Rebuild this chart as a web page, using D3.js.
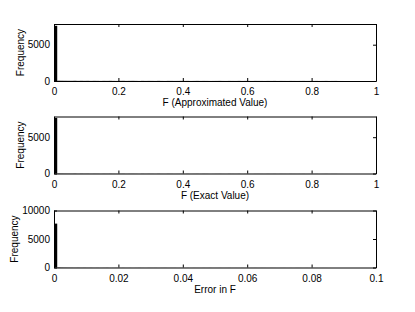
<!DOCTYPE html>
<html>
<head>
<meta charset="utf-8">
<script src="https://cdn.jsdelivr.net/npm/d3@7"></script>
<style>
  body { margin: 0; background: #fff; }
  svg { display: block; font-family: "Liberation Sans", Arial, sans-serif; }
  .axis text { font-size: 10px; fill: #000; }
  .axis path, .axis line { stroke: #000; }
  .label { font-size: 10px; fill: #000; }
</style>
</head>
<body>
<svg id="chart" width="415" height="312"></svg>
<script>
// histogram counts, 100 bins each (small bins estimated)
const countsApprox = [7600, 40, 32, 28, 25, 22, 30, 18, 26, 20,
  24, 15, 22, 18, 12, 20, 16, 22, 14, 10,
  18, 22, 12, 16, 20, 14, 8, 18, 12, 16,
  14, 10, 20, 12, 8, 16, 14, 10, 12, 18,
  10, 14, 8, 12, 16, 10, 14, 12, 8, 10,
  12, 16, 10, 8, 14, 12, 10, 16, 8, 12,
  10, 8, 14, 12, 10, 8, 12, 10, 14, 8,
  12, 10, 8, 12, 10, 8, 10, 12, 8, 10,
  8, 10, 6, 8, 12, 6, 8, 10, 4, 2,
  0, 0, 0, 0, 0, 0, 0, 0, 0, 0];
const countsExact = [7650, 38, 30, 26, 24, 22, 28, 18, 24, 20,
  22, 16, 20, 18, 14, 20, 16, 20, 14, 12,
  16, 20, 12, 16, 18, 14, 10, 16, 12, 16,
  14, 10, 18, 12, 10, 16, 14, 10, 12, 16,
  10, 14, 10, 12, 14, 10, 14, 12, 8, 10,
  12, 14, 10, 8, 14, 12, 10, 14, 8, 12,
  10, 8, 12, 12, 10, 8, 12, 10, 12, 8,
  12, 10, 8, 12, 10, 8, 10, 12, 8, 10,
  8, 10, 6, 8, 10, 6, 8, 8, 4, 2,
  0, 0, 0, 0, 0, 0, 0, 0, 0, 0];
const countsError = [7700, 60, 40, 34, 30, 26, 22, 28, 20, 24,
  18, 22, 16, 20, 14, 18, 22, 12, 16, 20,
  14, 18, 12, 16, 10, 14, 18, 12, 10, 16,
  12, 14, 10, 12, 16, 10, 12, 14, 8, 12,
  10, 14, 8, 12, 10, 8, 12, 10, 14, 8,
  10, 12, 8, 10, 12, 8, 10, 8, 12, 10,
  8, 10, 12, 8, 10, 8, 6, 10, 8, 6,
  8, 10, 6, 8, 6, 10, 8, 6, 8, 6,
  8, 6, 4, 6, 4, 2, 0, 0, 0, 0,
  0, 0, 0, 0, 0, 0, 0, 0, 0, 0];

const xTicksF = [0, 0.2, 0.4, 0.6, 0.8, 1];
const xTicksErr = [0, 0.02, 0.04, 0.06, 0.08, 0.1];

const panels = [
  { counts: countsApprox, xMax: 1, yMax: 7850, xTicks: xTicksF, yTicks: [0, 5000],
    xlabel: "F (Approximated Value)", top: 24, ylabelX: 20 },
  { counts: countsExact, xMax: 1, yMax: 7850, xTicks: xTicksF, yTicks: [0, 5000],
    xlabel: "F (Exact Value)", top: 116.5, ylabelX: 20 },
  { counts: countsError, xMax: 0.1, yMax: 10000, xTicks: xTicksErr, yTicks: [0, 5000, 10000],
    xlabel: "Error in F", top: 210.5, ylabelX: 14 }
];

const left = 54, right = 376, h = 57;
const svg = d3.select("#chart");

panels.forEach(p => {
  const x = d3.scaleLinear().domain([0, p.xMax]).range([left, right]);
  const y = d3.scaleLinear().domain([0, p.yMax]).range([p.top + h, p.top]);
  const n = p.counts.length;
  const bw = p.xMax / n;
  const g = svg.append("g");

  g.selectAll("rect.bar")
    .data(p.counts)
    .enter().append("rect")
    .attr("class", "bar")
    .attr("x", (d, i) => x(i * bw))
    .attr("width", x(bw) - x(0))
    .attr("y", d => y(d))
    .attr("height", d => y(0) - y(d))
    .attr("fill", "#000");

  // box with inward ticks (matlab style)
  g.append("g").attr("class", "axis")
    .attr("transform", `translate(0,${p.top + h})`)
    .call(d3.axisBottom(x).tickValues(p.xTicks).tickFormat(d3.format("~g")).tickSize(-3).tickPadding(7).tickSizeOuter(0));
  g.append("g").attr("class", "axis")
    .attr("transform", `translate(0,${p.top})`)
    .call(d3.axisTop(x).tickValues(p.xTicks).tickFormat("").tickSize(-3).tickSizeOuter(0));
  g.append("g").attr("class", "axis")
    .attr("transform", `translate(${left},0)`)
    .call(d3.axisLeft(y).tickValues(p.yTicks).tickFormat(d3.format("d")).tickSize(-3).tickPadding(4).tickSizeOuter(0));
  g.append("g").attr("class", "axis")
    .attr("transform", `translate(${right},0)`)
    .call(d3.axisRight(y).tickValues(p.yTicks).tickFormat("").tickSize(-3).tickSizeOuter(0));

  g.selectAll(".axis .tick text").attr("fill", "#000");

  g.append("text")
    .attr("class", "label")
    .attr("x", (left + right) / 2)
    .attr("y", p.top + h + 25)
    .attr("text-anchor", "middle")
    .text(p.xlabel);

  g.append("text")
    .attr("class", "label")
    .attr("transform", `translate(${p.ylabelX}, ${p.top + h / 2}) rotate(-90)`)
    .attr("text-anchor", "middle")
    .attr("dominant-baseline", "central")
    .text("Frequency");
});
</script>
</body>
</html>
